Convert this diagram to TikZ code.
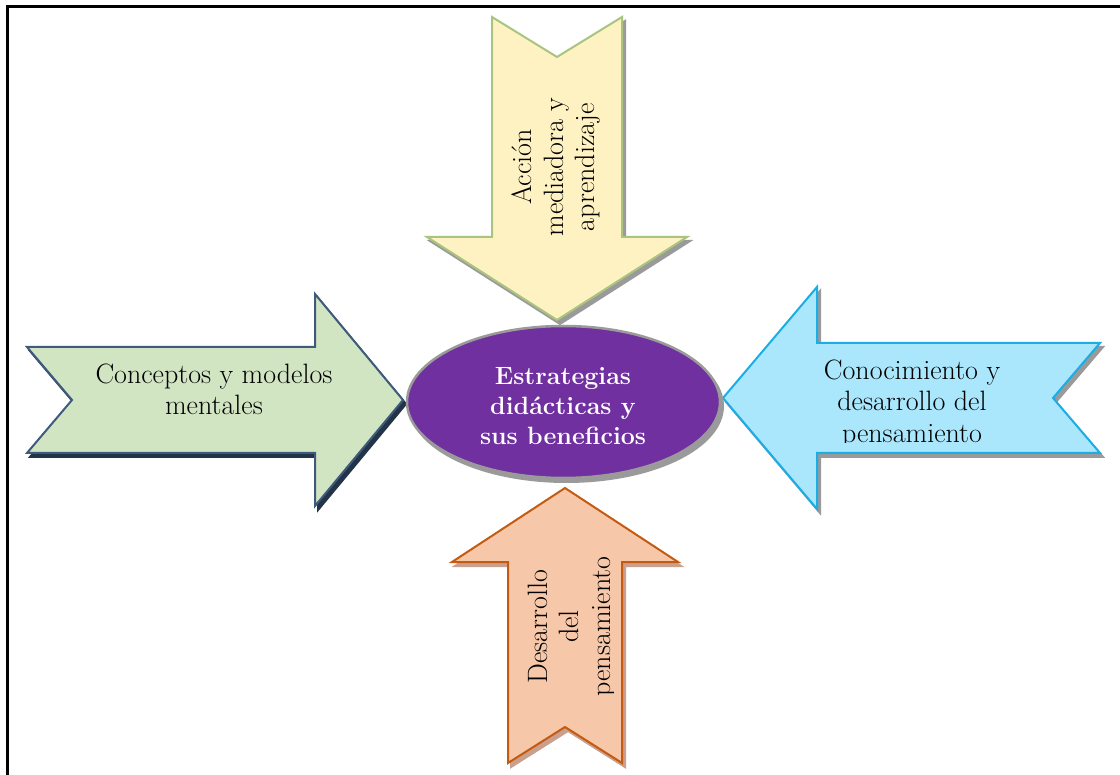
\documentclass[tikz,border=0pt]{standalone}
\usepackage{fontspec}
\usetikzlibrary{shapes.geometric}
\definecolor{yfill}{HTML}{FFF2C2}
\definecolor{yline}{HTML}{A9C47F}
\definecolor{gfill}{HTML}{D2E5C3}
\definecolor{gline}{HTML}{3E5A7C}
\definecolor{gshadow}{HTML}{243448}
\definecolor{cfill}{HTML}{ABE7FC}
\definecolor{cline}{HTML}{1AADE6}
\definecolor{pfill}{HTML}{F6C7A8}
\definecolor{pline}{HTML}{C55A11}
\definecolor{pshadow}{HTML}{C9A08E}
\definecolor{purp}{HTML}{7030A0}
\definecolor{gshade}{HTML}{9A9A9A}
\begin{document}
\begin{tikzpicture}[x=1pt,y=-1pt,
  shadowed/.style={preaction={fill=#1, draw=#1, line width=2pt,
      transform canvas={shift={(3pt,-4pt)}}}},
  arrowshape/.style={line width=2pt, line join=miter},
  txt/.style={font=\fontsize{28}{31.5}\selectfont, align=center, inner sep=0pt},
  txtbold/.style={font=\bfseries\fontsize{25}{30}\selectfont, align=center, inner sep=0pt, text=white}]
\useasboundingbox (0,0) rectangle (1120,775);
\fill[white] (0,0) rectangle (1120,775);
% frame
\draw[line width=3pt] (7,775) -- (7,7) -- (1120,7);

% top arrow (down)
\draw[arrowshape, shadowed=gshade, draw=yline, fill=yfill]
  (492,17) -- (557,57) -- (622,17) -- (622,237) -- (687,237) -- (557,320)
  -- (427,237) -- (492,237) -- cycle;
\node[txt, rotate=90] (toptext) at (556,167) {Acción\\mediadora y\\aprendizaje};

% left arrow (right)
\draw[arrowshape, shadowed=gshadow, draw=gline, fill=gfill]
  (27,347) -- (315,347) -- (315,294) -- (403,400) -- (315,506) -- (315,453)
  -- (27,453) -- (72,400) -- cycle;
\node[txt] (lefttext) at (214,389.3) {Conceptos y modelos\\mentales};

% right arrow (left)
\draw[arrowshape, shadowed=gshade, draw=cline, fill=cfill]
  (1100,343) -- (817,343) -- (817,287) -- (723,398) -- (817,509) -- (817,453)
  -- (1100,453) -- (1053,398) -- cycle;
\begin{scope}
  \clip (820,340) rectangle (1050,443);
  \node[txt] (righttext) at (912,403.9) {Conocimiento y\\desarrollo del\\pensamiento};
\end{scope}

% bottom arrow (up)
\draw[arrowshape, shadowed=pshadow, draw=pline, fill=pfill]
  (508,763) -- (565,727) -- (622,763) -- (622,562) -- (678,562) -- (565,488)
  -- (452,562) -- (508,562) -- cycle;
\begin{scope}
  \clip (500,530) rectangle (613,720);
  \node[txt, rotate=90] (bottomtext) at (571.6,626.5) {Desarrollo\\del\\pensamiento};
\end{scope}

% center ellipse
\node[ellipse, draw=gshade, line width=2.5pt, fill=purp, shadowed=gshade,
  minimum width=313pt, minimum height=152pt, inner sep=0pt] (centre) at (563.5,402) {};
\begin{scope}
  \clip (410,330) rectangle (718,445.5);
  \node[txtbold] (centretext) at (563,406.4) {Estrategias\\didácticas y\\sus beneficios};
\end{scope}
\end{tikzpicture}
\end{document}
